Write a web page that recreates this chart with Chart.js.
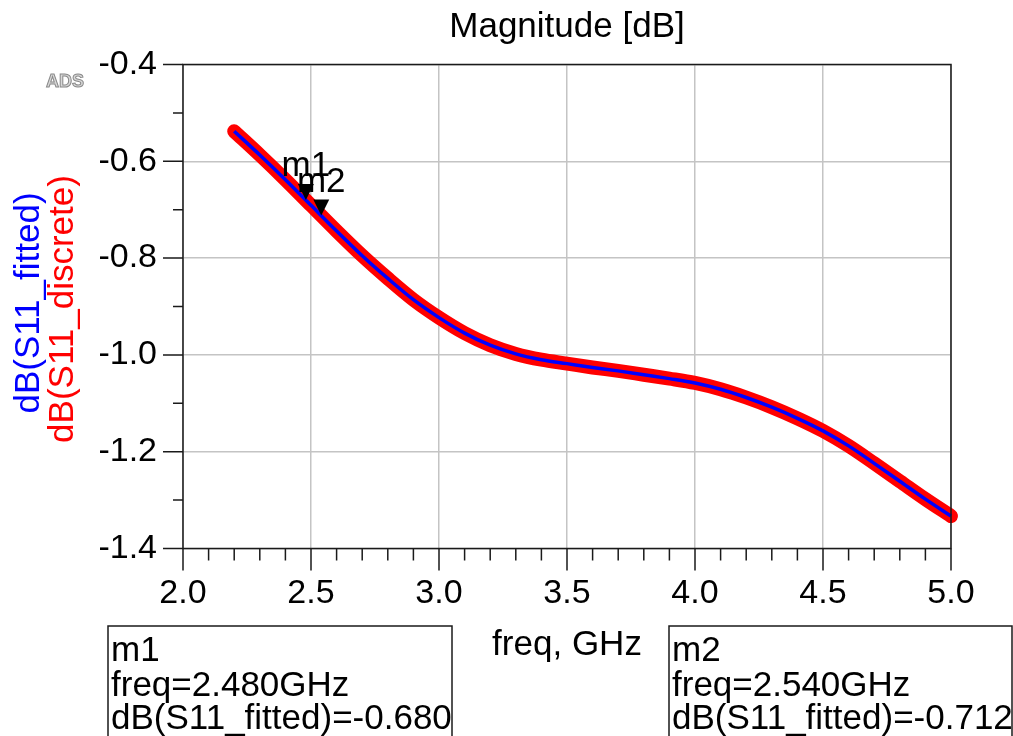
<!DOCTYPE html>
<html>
<head>
<meta charset="utf-8">
<script src="https://cdn.jsdelivr.net/npm/chart.js@4"></script>
<style>
  body { margin: 0; background: #fff; }
  canvas { display: block; }
</style>
</head>
<body>
<canvas id="canvas" width="1013" height="736"></canvas>
<script>
// values
const freq = [2.2, 2.3, 2.4, 2.5, 2.6, 2.7, 2.8, 2.9, 3.0, 3.1, 3.2, 3.3, 3.4, 3.5, 3.6, 3.7, 3.8, 3.9, 4.0, 4.1, 4.2, 4.3, 4.4, 4.5, 4.6, 4.7, 4.8, 4.9, 5.0]
const s11Fitted = [-0.538, -0.587, -0.638, -0.691, -0.744, -0.795, -0.842, -0.886, -0.923, -0.955, -0.980, -0.998, -1.010, -1.018, -1.026, -1.033, -1.041, -1.049, -1.058, -1.071, -1.088, -1.108, -1.131, -1.157, -1.188, -1.224, -1.261, -1.298, -1.333]
const s11Discrete = [-0.538, -0.587, -0.638, -0.691, -0.744, -0.795, -0.842, -0.886, -0.923, -0.955, -0.980, -0.998, -1.010, -1.018, -1.026, -1.033, -1.041, -1.049, -1.058, -1.071, -1.088, -1.108, -1.131, -1.157, -1.188, -1.224, -1.261, -1.298, -1.333]
const markerNames = ['m1', 'm2']
const markerFreq = [2.480, 2.540]
const markerDb = [-0.680, -0.712]
const xTickValues = [2.0, 2.5, 3.0, 3.5, 4.0, 4.5, 5.0]
const yTickValues = [-1.4, -1.2, -1.0, -0.8, -0.6, -0.4]

const FONT = "'Liberation Sans', Arial, sans-serif"

function points(ys) {
    return freq.map((f, i) => ({ x: f, y: ys[i] }))
}

// ticks, frame, titles, markers and readout boxes
const decor = {
    id: 'decor',
    afterDraw(chart) {
        const c = chart.ctx
        const a = chart.chartArea
        const xs = chart.scales.x
        const ys = chart.scales.y
        c.save()
        c.strokeStyle = '#1a1a1a'
        c.lineWidth = 1.5
        c.beginPath()
        for (let k = 0; k <= 30; k++) {
            const px = xs.getPixelForValue(2 + k * 0.1)
            const len = k % 5 === 0 ? 22 : 12
            c.moveTo(px, a.bottom)
            c.lineTo(px, a.bottom + len)
        }
        for (let k = 0; k <= 10; k++) {
            const py = ys.getPixelForValue(-1.4 + k * 0.1)
            const len = k % 2 === 0 ? 20 : 10
            c.moveTo(a.left - len, py)
            c.lineTo(a.left, py)
        }
        c.stroke()
        c.strokeRect(a.left, a.top, a.right - a.left, a.bottom - a.top)

        c.fillStyle = '#000'
        c.font = '35px ' + FONT
        c.textAlign = 'center'
        c.textBaseline = 'alphabetic'
        c.fillText('Magnitude [dB]', 567, 37)
        c.fillText('freq, GHz', 567, 655)

        // y axis titles
        c.save()
        c.font = '35px ' + FONT
        c.textBaseline = 'middle'
        c.translate(29, 303)
        c.rotate(-Math.PI / 2)
        c.fillStyle = '#0000ff'
        c.fillText('dB(S11_fitted)', 0, 0)
        c.restore()
        c.save()
        c.font = '35px ' + FONT
        c.textBaseline = 'middle'
        c.translate(63, 309)
        c.rotate(-Math.PI / 2)
        c.fillStyle = '#ff0000'
        c.fillText('dB(S11_discrete)', 0, 0)
        c.restore()

        // markers on the trace
        c.font = '35px ' + FONT
        for (let i = 0; i < markerNames.length; i++) {
            const px = xs.getPixelForValue(markerFreq[i])
            const py = ys.getPixelForValue(markerDb[i])
            c.fillStyle = '#000'
            c.beginPath()
            c.moveTo(px - 8, py - 16)
            c.lineTo(px + 8, py - 16)
            c.lineTo(px, py)
            c.closePath()
            c.fill()
            c.textAlign = 'center'
            c.fillText(markerNames[i], px, py - 24)
        }

        // marker readouts
        const boxX = [108, 669]
        const boxW = [344, 343]
        c.textAlign = 'left'
        for (let i = 0; i < markerNames.length; i++) {
            c.strokeRect(boxX[i], 626, boxW[i], 140)
            c.fillText(markerNames[i], boxX[i] + 3, 661)
            c.fillText('freq=' + markerFreq[i].toFixed(3) + 'GHz', boxX[i] + 3, 696)
            c.fillText('dB(S11_fitted)=' + markerDb[i].toFixed(3), boxX[i] + 3, 729)
        }

        // ADS logo
        c.font = 'bold 18px ' + FONT
        c.fillStyle = '#d8d8d8'
        c.strokeStyle = '#8a8a8a'
        c.lineWidth = 1
        c.fillText('ADS', 46, 87)
        c.strokeText('ADS', 46, 87)
        c.restore()
    }
}

const ctx = document.getElementById('canvas').getContext('2d')
const chart = new Chart(ctx, {
    type: 'scatter',
    data: {
        datasets: [{
            label: 'dB(S11_fitted)',
            data: points(s11Fitted),
            showLine: true,
            borderColor: '#0000ff',
            borderWidth: 3.5,
            pointRadius: 0,
            cubicInterpolationMode: 'monotone',
            clip: false,
            order: 0
        }, {
            label: 'dB(S11_discrete)',
            data: points(s11Discrete),
            showLine: true,
            borderColor: '#ff0000',
            borderWidth: 14,
            borderCapStyle: 'round',
            borderJoinStyle: 'round',
            pointRadius: 0,
            cubicInterpolationMode: 'monotone',
            clip: false,
            order: 1
        }]
    },
    options: {
        responsive: false,
        animation: false,
        devicePixelRatio: 1,
        layout: { padding: { left: 0, top: 64.5, right: 62, bottom: 127.5 } },
        plugins: { legend: { display: false }, tooltip: { enabled: false } },
        scales: {
            x: {
                type: 'linear',
                min: 2,
                max: 5,
                afterBuildTicks: s => { s.ticks = xTickValues.map(v => ({ value: v })) },
                afterFit: s => { s.height = 60 },
                grid: { color: '#c4c4c4', lineWidth: 1.5, drawTicks: false },
                border: { display: false },
                ticks: {
                    padding: 25,
                    color: '#000',
                    maxRotation: 0,
                    font: { family: FONT, size: 34 },
                    callback: v => v.toFixed(1)
                }
            },
            y: {
                type: 'linear',
                min: -1.4,
                max: -0.4,
                afterBuildTicks: s => { s.ticks = yTickValues.map(v => ({ value: v })) },
                afterFit: s => { s.width = 183 },
                grid: { color: '#c4c4c4', lineWidth: 1.5, drawTicks: false },
                border: { display: false },
                ticks: {
                    padding: 26,
                    color: '#000',
                    font: { family: FONT, size: 34 },
                    callback: v => v.toFixed(1)
                }
            }
        }
    },
    plugins: [decor]
});
</script>
</body>
</html>
